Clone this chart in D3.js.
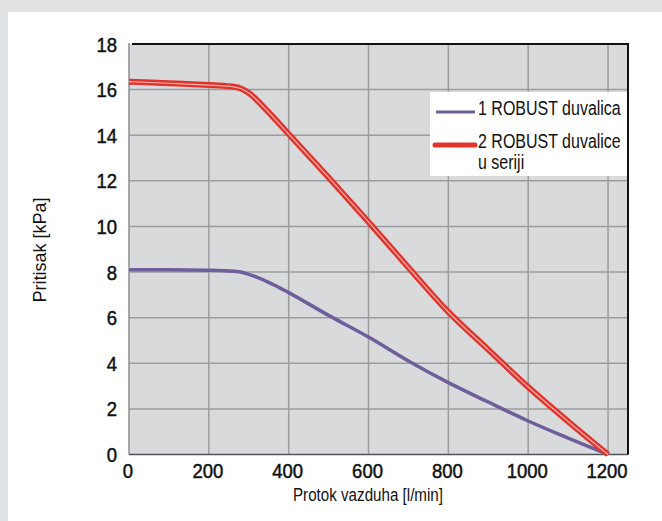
<!DOCTYPE html>
<html><head><meta charset="utf-8">
<script src="https://cdn.jsdelivr.net/npm/d3@7"></script>
<style>
html,body{margin:0;padding:0;background:#e1e2e4;}
svg{display:block;}
text{font-family:"Liberation Sans",Arial,sans-serif;fill:#111;}
</style></head><body>
<svg id="c" width="662" height="521"></svg>
<script>
const flowValues = [0,100,200,250,280,300,350,400,500,600,700,800,900,1000,1100,1200];
const oneBlower  = [8.1,8.1,8.08,8.05,8.0,7.9,7.55,7.1,6.1,5.15,4.1,3.15,2.3,1.47,0.72,0];
const twoBlowers = [16.35,16.28,16.2,16.15,16.05,15.85,15.0,14.05,12.15,10.2,8.2,6.25,4.6,2.96,1.45,0];
const xTicks = [0,200,400,600,800,1000,1200];
const yTicks = [0,2,4,6,8,10,12,14,16,18];
const seriesNames = ["1 ROBUST duvalica","2 ROBUST duvalice","u seriji"];
const xTitle = "Protok vazduha [l/min]";
const yTitle = "Pritisak [kPa]";

const svg = d3.select("#c");
svg.append("rect").attr("x",8).attr("y",12).attr("width",662).attr("height",521).attr("fill","#fff");

const L=129, R=628, T=44, B=454.5;
const x = d3.scaleLinear().domain([0,1250]).range([L,R]);
const y = d3.scaleLinear().domain([0,18]).range([B,T]);

function ctext(parent, px, py, str, opt){
  opt = opt||{};
  const t = parent.append("text")
    .attr("transform",`translate(${px},${py})${opt.rot?` rotate(${opt.rot})`:""} scale(${opt.sx||0.88},1)`)
    .attr("text-anchor",opt.anchor||"start")
    .attr("font-size",opt.size||20)
    .attr("fill",opt.fill||"#111")
    .text(str);
  if(opt.stroke) t.attr("stroke",opt.fill||"#111").attr("stroke-width",opt.stroke);
  return t;
}

svg.append("rect").attr("x",L).attr("y",T).attr("width",R-L).attr("height",B-T).attr("fill","#d9dadc");

const g = svg.append("g");
g.selectAll(".vg").data(xTicks.filter(d=>d>0)).enter().append("line")
 .attr("x1",d=>x(d)).attr("x2",d=>x(d)).attr("y1",T).attr("y2",B)
 .attr("stroke","#9c9c9e").attr("stroke-width",1.5);
g.selectAll(".hg").data(yTicks.filter(d=>d>0&&d<18)).enter().append("line")
 .attr("x1",L).attr("x2",R).attr("y1",d=>y(d)).attr("y2",d=>y(d))
 .attr("stroke","#9c9c9e").attr("stroke-width",1.5);

svg.append("line").attr("x1",L).attr("x2",L).attr("y1",T-1).attr("y2",B).attr("stroke","#8e8e90").attr("stroke-width",1.5);
svg.append("line").attr("x1",L).attr("x2",R).attr("y1",B).attr("y2",B).attr("stroke","#555").attr("stroke-width",1.5);
svg.append("line").attr("x1",L+3).attr("x2",R+1).attr("y1",T).attr("y2",T).attr("stroke","#111").attr("stroke-width",2);
svg.append("line").attr("x1",R).attr("x2",R).attr("y1",T).attr("y2",B).attr("stroke","#111").attr("stroke-width",2);

const fmt = d3.format("d");
xTicks.forEach(v=>ctext(svg, x(v)-1, 477.5, fmt(v), {anchor:"middle", size:21, sx:0.88, stroke:0.5}));
yTicks.forEach(v=>ctext(svg, 117, y(v)+7.5, fmt(v), {anchor:"end", size:21, sx:0.88, stroke:0.5}));

ctext(svg, 368, 501, xTitle, {anchor:"middle", size:18.5, sx:0.82});
ctext(svg, 46, 250, yTitle, {anchor:"middle", size:19, sx:0.95, rot:-90});

const line = d3.line().x(d=>x(d[0])).y(d=>y(d[1])).curve(d3.curveMonotoneX);
const p1 = flowValues.map((f,i)=>[f,oneBlower[i]]);
const p2 = flowValues.map((f,i)=>[f,twoBlowers[i]]);
svg.append("path").attr("d",line(p1)).attr("fill","none").attr("stroke","#6e5f9c").attr("stroke-width",3.5);
svg.append("path").attr("d",line(p2)).attr("fill","none").attr("stroke","#e2342c").attr("stroke-width",6);
svg.append("path").attr("d",line(p2)).attr("fill","none").attr("stroke","#f6b3ad").attr("stroke-width",1.2);

const lg = svg.append("g");
lg.append("rect").attr("x",430).attr("y",92).attr("width",R-1-430).attr("height",84).attr("fill","#fff");
lg.append("line").attr("x1",436).attr("x2",475).attr("y1",112).attr("y2",112).attr("stroke","#6e5f9c").attr("stroke-width",3);
lg.append("line").attr("x1",435).attr("x2",475).attr("y1",145).attr("y2",145).attr("stroke","#e2342c").attr("stroke-width",5).attr("stroke-linecap","round");
ctext(lg, 478, 115, seriesNames[0], {size:19.5, fill:"#222", sx:0.82});
ctext(lg, 478, 148, seriesNames[1], {size:19.5, fill:"#222", sx:0.82});
ctext(lg, 478, 169, seriesNames[2], {size:19.5, fill:"#222", sx:0.82});
</script></body></html>
